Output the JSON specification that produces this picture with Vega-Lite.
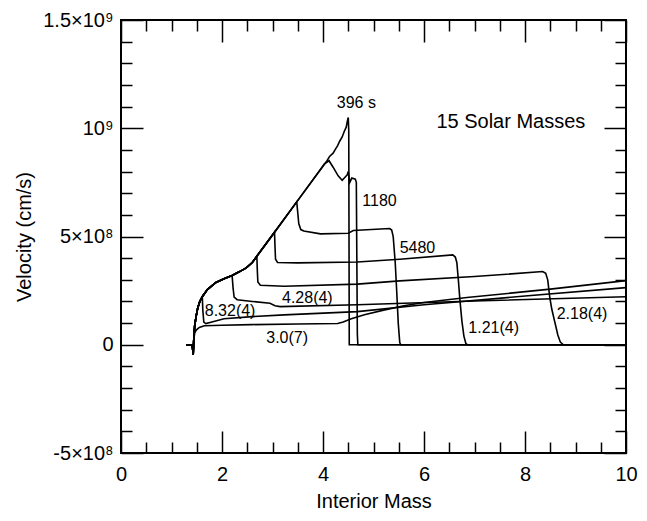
{
  "$schema": "https://vega.github.io/schema/vega-lite/v6.json",
  "width": 505,
  "height": 433,
  "autosize": "none",
  "padding": {"left": 121, "top": 20, "right": 21, "bottom": 68},
  "background": "white",
  "config": {
    "view": {"stroke": "black", "strokeWidth": 2},
    "font": "Liberation Sans",
    "axis": {"domain": false, "grid": false, "tickColor": "black", "tickWidth": 1.5, "labelColor": "black", "titleColor": "black", "labelFont": "Liberation Sans", "titleFont": "Liberation Sans", "labelFontSize": 20, "titleFontSize": 20, "titleFontWeight": "normal"}
  },
  "datasets": {
    "curves": [
      {"t":"396 s","m":1.29,"v":0},{"t":"396 s","m":1.41,"v":0},{"t":"396 s","m":1.43,"v":-0.45e8},{"t":"396 s","m":1.44,"v":0.2e8},{"t":"396 s","m":1.46,"v":0.9e8},{"t":"396 s","m":1.49,"v":1.35e8},{"t":"396 s","m":1.52,"v":1.7e8},{"t":"396 s","m":1.56,"v":2.0e8},{"t":"396 s","m":1.61,"v":2.22e8},{"t":"396 s","m":1.71,"v":2.55e8},{"t":"396 s","m":1.88,"v":2.88e8},{"t":"396 s","m":2.04,"v":3.05e8},{"t":"396 s","m":2.2,"v":3.2e8},{"t":"396 s","m":2.35,"v":3.38e8},{"t":"396 s","m":2.48,"v":3.55e8},{"t":"396 s","m":2.6,"v":3.8e8},{"t":"396 s","m":2.7,"v":4.12e8},{"t":"396 s","m":3.04,"v":5.2e8},{"t":"396 s","m":3.48,"v":6.6e8},{"t":"396 s","m":3.99,"v":8.22e8},{"t":"396 s","m":4.08,"v":8.5e8},{"t":"396 s","m":4.13,"v":8.7e8},{"t":"396 s","m":4.2,"v":8.85e8},{"t":"396 s","m":4.25,"v":9.05e8},{"t":"396 s","m":4.29,"v":9.2e8},{"t":"396 s","m":4.33,"v":9.4e8},{"t":"396 s","m":4.38,"v":9.6e8},{"t":"396 s","m":4.42,"v":9.85e8},{"t":"396 s","m":4.46,"v":10.05e8},{"t":"396 s","m":4.48,"v":10.3e8},{"t":"396 s","m":4.5,"v":10.5e8},{"t":"396 s","m":4.51,"v":9.9e8},{"t":"396 s","m":4.515,"v":5e8},{"t":"396 s","m":4.52,"v":0},{"t":"396 s","m":10,"v":0},

      {"t":"1180","m":1.29,"v":0},{"t":"1180","m":1.41,"v":0},{"t":"1180","m":1.43,"v":-0.45e8},{"t":"1180","m":1.44,"v":0.2e8},{"t":"1180","m":1.46,"v":0.9e8},{"t":"1180","m":1.49,"v":1.35e8},{"t":"1180","m":1.52,"v":1.7e8},{"t":"1180","m":1.56,"v":2.0e8},{"t":"1180","m":1.61,"v":2.22e8},{"t":"1180","m":1.71,"v":2.55e8},{"t":"1180","m":1.88,"v":2.88e8},{"t":"1180","m":2.04,"v":3.05e8},{"t":"1180","m":2.2,"v":3.2e8},{"t":"1180","m":2.35,"v":3.38e8},{"t":"1180","m":2.48,"v":3.55e8},{"t":"1180","m":2.6,"v":3.8e8},{"t":"1180","m":2.7,"v":4.12e8},{"t":"1180","m":3.04,"v":5.2e8},{"t":"1180","m":3.48,"v":6.6e8},{"t":"1180","m":3.99,"v":8.22e8},{"t":"1180","m":4.03,"v":8.36e8},{"t":"1180","m":4.12,"v":8.5e8},{"t":"1180","m":4.2,"v":8.2e8},{"t":"1180","m":4.3,"v":7.8e8},{"t":"1180","m":4.38,"v":7.6e8},{"t":"1180","m":4.44,"v":7.75e8},{"t":"1180","m":4.48,"v":7.85e8},{"t":"1180","m":4.5,"v":8.0e8},{"t":"1180","m":4.53,"v":7.5e8},{"t":"1180","m":4.57,"v":7.7e8},{"t":"1180","m":4.64,"v":7.65e8},{"t":"1180","m":4.66,"v":7.5e8},{"t":"1180","m":4.67,"v":4.0e8},{"t":"1180","m":4.68,"v":0.5e8},{"t":"1180","m":4.69,"v":0},{"t":"1180","m":10,"v":0},

      {"t":"5480","m":1.29,"v":0},{"t":"5480","m":1.41,"v":0},{"t":"5480","m":1.43,"v":-0.45e8},{"t":"5480","m":1.44,"v":0.2e8},{"t":"5480","m":1.46,"v":0.9e8},{"t":"5480","m":1.49,"v":1.35e8},{"t":"5480","m":1.52,"v":1.7e8},{"t":"5480","m":1.56,"v":2.0e8},{"t":"5480","m":1.61,"v":2.22e8},{"t":"5480","m":1.71,"v":2.55e8},{"t":"5480","m":1.88,"v":2.88e8},{"t":"5480","m":2.04,"v":3.05e8},{"t":"5480","m":2.2,"v":3.2e8},{"t":"5480","m":2.35,"v":3.38e8},{"t":"5480","m":2.48,"v":3.55e8},{"t":"5480","m":2.6,"v":3.8e8},{"t":"5480","m":2.7,"v":4.12e8},{"t":"5480","m":3.04,"v":5.2e8},{"t":"5480","m":3.48,"v":6.6e8},{"t":"5480","m":3.5,"v":6.1e8},{"t":"5480","m":3.52,"v":5.6e8},{"t":"5480","m":3.56,"v":5.32e8},{"t":"5480","m":3.62,"v":5.25e8},{"t":"5480","m":3.95,"v":5.12e8},{"t":"5480","m":4.5,"v":5.15e8},{"t":"5480","m":4.6,"v":5.28e8},{"t":"5480","m":5.32,"v":5.37e8},{"t":"5480","m":5.36,"v":5.3e8},{"t":"5480","m":5.39,"v":5.0e8},{"t":"5480","m":5.43,"v":3.8e8},{"t":"5480","m":5.46,"v":2.45e8},{"t":"5480","m":5.49,"v":1.0e8},{"t":"5480","m":5.52,"v":0.1e8},{"t":"5480","m":5.54,"v":0},{"t":"5480","m":10,"v":0},

      {"t":"1.21(4)","m":1.29,"v":0},{"t":"1.21(4)","m":1.41,"v":0},{"t":"1.21(4)","m":1.43,"v":-0.45e8},{"t":"1.21(4)","m":1.44,"v":0.2e8},{"t":"1.21(4)","m":1.46,"v":0.9e8},{"t":"1.21(4)","m":1.49,"v":1.35e8},{"t":"1.21(4)","m":1.52,"v":1.7e8},{"t":"1.21(4)","m":1.56,"v":2.0e8},{"t":"1.21(4)","m":1.61,"v":2.22e8},{"t":"1.21(4)","m":1.71,"v":2.55e8},{"t":"1.21(4)","m":1.88,"v":2.88e8},{"t":"1.21(4)","m":2.04,"v":3.05e8},{"t":"1.21(4)","m":2.2,"v":3.2e8},{"t":"1.21(4)","m":2.35,"v":3.38e8},{"t":"1.21(4)","m":2.48,"v":3.55e8},{"t":"1.21(4)","m":2.6,"v":3.8e8},{"t":"1.21(4)","m":2.7,"v":4.12e8},{"t":"1.21(4)","m":3.04,"v":5.2e8},{"t":"1.21(4)","m":3.05,"v":4.5e8},{"t":"1.21(4)","m":3.06,"v":3.95e8},{"t":"1.21(4)","m":3.1,"v":3.8e8},{"t":"1.21(4)","m":3.5,"v":3.78e8},{"t":"1.21(4)","m":4.68,"v":3.82e8},{"t":"1.21(4)","m":5.52,"v":3.95e8},{"t":"1.21(4)","m":6.57,"v":4.15e8},{"t":"1.21(4)","m":6.62,"v":4.05e8},{"t":"1.21(4)","m":6.65,"v":3.8e8},{"t":"1.21(4)","m":6.68,"v":3.0e8},{"t":"1.21(4)","m":6.71,"v":2.1e8},{"t":"1.21(4)","m":6.75,"v":1.1e8},{"t":"1.21(4)","m":6.79,"v":0.4e8},{"t":"1.21(4)","m":6.83,"v":0.05e8},{"t":"1.21(4)","m":6.86,"v":0},{"t":"1.21(4)","m":10,"v":0},

      {"t":"2.18(4)","m":1.29,"v":0},{"t":"2.18(4)","m":1.41,"v":0},{"t":"2.18(4)","m":1.43,"v":-0.45e8},{"t":"2.18(4)","m":1.44,"v":0.2e8},{"t":"2.18(4)","m":1.46,"v":0.9e8},{"t":"2.18(4)","m":1.49,"v":1.35e8},{"t":"2.18(4)","m":1.52,"v":1.7e8},{"t":"2.18(4)","m":1.56,"v":2.0e8},{"t":"2.18(4)","m":1.61,"v":2.22e8},{"t":"2.18(4)","m":1.71,"v":2.55e8},{"t":"2.18(4)","m":1.88,"v":2.88e8},{"t":"2.18(4)","m":2.04,"v":3.05e8},{"t":"2.18(4)","m":2.2,"v":3.2e8},{"t":"2.18(4)","m":2.35,"v":3.38e8},{"t":"2.18(4)","m":2.48,"v":3.55e8},{"t":"2.18(4)","m":2.6,"v":3.8e8},{"t":"2.18(4)","m":2.69,"v":4.08e8},{"t":"2.18(4)","m":2.7,"v":3.4e8},{"t":"2.18(4)","m":2.71,"v":2.9e8},{"t":"2.18(4)","m":2.76,"v":2.75e8},{"t":"2.18(4)","m":3.23,"v":2.7e8},{"t":"2.18(4)","m":4.68,"v":2.8e8},{"t":"2.18(4)","m":5.52,"v":2.95e8},{"t":"2.18(4)","m":7.0,"v":3.15e8},{"t":"2.18(4)","m":8.35,"v":3.38e8},{"t":"2.18(4)","m":8.41,"v":3.3e8},{"t":"2.18(4)","m":8.45,"v":3.0e8},{"t":"2.18(4)","m":8.49,"v":2.2e8},{"t":"2.18(4)","m":8.53,"v":1.65e8},{"t":"2.18(4)","m":8.59,"v":1.05e8},{"t":"2.18(4)","m":8.65,"v":0.45e8},{"t":"2.18(4)","m":8.7,"v":0.12e8},{"t":"2.18(4)","m":8.76,"v":0},{"t":"2.18(4)","m":10,"v":0},

      {"t":"4.28(4)","m":1.29,"v":0},{"t":"4.28(4)","m":1.41,"v":0},{"t":"4.28(4)","m":1.43,"v":-0.45e8},{"t":"4.28(4)","m":1.44,"v":0.2e8},{"t":"4.28(4)","m":1.46,"v":0.9e8},{"t":"4.28(4)","m":1.49,"v":1.35e8},{"t":"4.28(4)","m":1.52,"v":1.7e8},{"t":"4.28(4)","m":1.56,"v":2.0e8},{"t":"4.28(4)","m":1.61,"v":2.22e8},{"t":"4.28(4)","m":1.71,"v":2.55e8},{"t":"4.28(4)","m":1.88,"v":2.88e8},{"t":"4.28(4)","m":2.04,"v":3.05e8},{"t":"4.28(4)","m":2.2,"v":3.2e8},{"t":"4.28(4)","m":2.22,"v":2.6e8},{"t":"4.28(4)","m":2.24,"v":2.2e8},{"t":"4.28(4)","m":2.3,"v":2.08e8},{"t":"4.28(4)","m":2.6,"v":2.0e8},{"t":"4.28(4)","m":2.95,"v":1.92e8},{"t":"4.28(4)","m":3.05,"v":1.8e8},{"t":"4.28(4)","m":3.15,"v":1.76e8},{"t":"4.28(4)","m":4.68,"v":1.85e8},{"t":"4.28(4)","m":7.0,"v":2.02e8},{"t":"4.28(4)","m":10,"v":2.22e8},

      {"t":"8.32(4)","m":1.29,"v":0},{"t":"8.32(4)","m":1.41,"v":0},{"t":"8.32(4)","m":1.43,"v":-0.45e8},{"t":"8.32(4)","m":1.44,"v":0.2e8},{"t":"8.32(4)","m":1.46,"v":0.9e8},{"t":"8.32(4)","m":1.49,"v":1.35e8},{"t":"8.32(4)","m":1.52,"v":1.7e8},{"t":"8.32(4)","m":1.56,"v":2.0e8},{"t":"8.32(4)","m":1.61,"v":2.22e8},{"t":"8.32(4)","m":1.62,"v":1.6e8},{"t":"8.32(4)","m":1.64,"v":1.05e8},{"t":"8.32(4)","m":1.68,"v":0.98e8},{"t":"8.32(4)","m":1.8,"v":1.05e8},{"t":"8.32(4)","m":2.04,"v":1.2e8},{"t":"8.32(4)","m":2.6,"v":1.3e8},{"t":"8.32(4)","m":3.23,"v":1.38e8},{"t":"8.32(4)","m":4.68,"v":1.53e8},{"t":"8.32(4)","m":6.0,"v":1.85e8},{"t":"8.32(4)","m":8.0,"v":2.25e8},{"t":"8.32(4)","m":10,"v":2.64e8},

      {"t":"3.0(7)","m":1.29,"v":0},{"t":"3.0(7)","m":1.41,"v":0},{"t":"3.0(7)","m":1.43,"v":-0.45e8},{"t":"3.0(7)","m":1.44,"v":0.2e8},{"t":"3.0(7)","m":1.46,"v":0.55e8},{"t":"3.0(7)","m":1.49,"v":0.68e8},{"t":"3.0(7)","m":1.55,"v":0.8e8},{"t":"3.0(7)","m":1.65,"v":0.88e8},{"t":"3.0(7)","m":2.0,"v":0.9e8},{"t":"3.0(7)","m":2.58,"v":0.93e8},{"t":"3.0(7)","m":3.5,"v":0.96e8},{"t":"3.0(7)","m":4.29,"v":0.98e8},{"t":"3.0(7)","m":4.4,"v":1.05e8},{"t":"3.0(7)","m":4.56,"v":1.2e8},{"t":"3.0(7)","m":4.82,"v":1.39e8},{"t":"3.0(7)","m":5.2,"v":1.6e8},{"t":"3.0(7)","m":5.6,"v":1.8e8},{"t":"3.0(7)","m":6.0,"v":1.95e8},{"t":"3.0(7)","m":6.85,"v":2.18e8},{"t":"3.0(7)","m":8.5,"v":2.57e8},{"t":"3.0(7)","m":10,"v":2.96e8}
    ],
    "labels": [
      {"text":"396 s","m":4.66,"v":11.16e8,"size":16},
      {"text":"1180","m":5.12,"v":6.62e8,"size":16},
      {"text":"5480","m":5.87,"v":4.49e8,"size":16},
      {"text":"1.21(4)","m":7.38,"v":0.79e8,"size":16},
      {"text":"2.18(4)","m":9.13,"v":1.44e8,"size":16},
      {"text":"4.28(4)","m":3.69,"v":2.18e8,"size":16},
      {"text":"8.32(4)","m":2.16,"v":1.57e8,"size":16},
      {"text":"3.0(7)","m":3.29,"v":0.32e8,"size":16},
      {"text":"15 Solar Masses","m":7.72,"v":10.28e8,"size":20}
    ]
  },
  "layer": [
    {
      "data": {"name": "curves"},
      "mark": {"type": "line", "color": "black", "strokeWidth": 1.6, "clip": true},
      "encoding": {
        "x": {"field": "m", "type": "quantitative", "scale": {"domain": [0, 10], "nice": false, "zero": false},
              "axis": {"orient": "bottom", "values": [0, 2, 4, 6, 8, 10], "tickSize": -22, "labelPadding": 33, "labelFlush": false, "title": "Interior Mass", "titlePadding": 7}},
        "y": {"field": "v", "type": "quantitative", "scale": {"domain": [-5e8, 1.5e9], "nice": false, "zero": false},
              "axis": {"orient": "left", "values": [-5e8, 0, 5e8, 1e9, 1.5e9], "tickSize": -22, "labelPadding": 30, "labelFlush": false,
                       "labelExpr": "datum.value == 1.5e9 ? '1.5×10⁹' : datum.value == 1e9 ? '10⁹' : datum.value == 5e8 ? '5×10⁸' : datum.value == 0 ? '0' : '-5×10⁸'",
                       "title": "Velocity (cm/s)", "titlePadding": 8}},
        "detail": {"field": "t", "type": "nominal"}
      }
    },
    {
      "data": {"name": "labels"},
      "mark": {"type": "text", "color": "black", "font": "Liberation Sans"},
      "encoding": {
        "x": {"field": "m", "type": "quantitative", "axis": {"orient": "bottom", "values": [0.5, 1, 1.5, 2.5, 3, 3.5, 4.5, 5, 5.5, 6.5, 7, 7.5, 8.5, 9, 9.5], "tickSize": -11, "labels": false, "title": null}},
        "y": {"field": "v", "type": "quantitative", "axis": {"orient": "left", "values": [-4e8, -3e8, -2e8, -1e8, 1e8, 2e8, 3e8, 4e8, 6e8, 7e8, 8e8, 9e8, 1.1e9, 1.2e9, 1.3e9, 1.4e9], "tickSize": -11, "labels": false, "title": null}},
        "text": {"field": "text"},
        "size": {"field": "size", "type": "quantitative", "scale": null}
      }
    },
    {
      "data": {"name": "labels"},
      "mark": {"type": "point", "opacity": 0},
      "encoding": {
        "x": {"field": "m", "type": "quantitative", "axis": {"orient": "top", "values": [0, 2, 4, 6, 8, 10], "tickSize": -22, "labels": false, "title": null}},
        "y": {"field": "v", "type": "quantitative", "axis": {"orient": "right", "values": [-5e8, 0, 5e8, 1e9, 1.5e9], "tickSize": -22, "labels": false, "title": null}}
      }
    },
    {
      "data": {"name": "labels"},
      "mark": {"type": "point", "opacity": 0},
      "encoding": {
        "x": {"field": "m", "type": "quantitative", "axis": {"orient": "top", "values": [0.5, 1, 1.5, 2.5, 3, 3.5, 4.5, 5, 5.5, 6.5, 7, 7.5, 8.5, 9, 9.5], "tickSize": -11, "labels": false, "title": null}},
        "y": {"field": "v", "type": "quantitative", "axis": {"orient": "right", "values": [-4e8, -3e8, -2e8, -1e8, 1e8, 2e8, 3e8, 4e8, 6e8, 7e8, 8e8, 9e8, 1.1e9, 1.2e9, 1.3e9, 1.4e9], "tickSize": -11, "labels": false, "title": null}}
      }
    }
  ],
  "resolve": {"axis": {"x": "independent", "y": "independent"}}
}
